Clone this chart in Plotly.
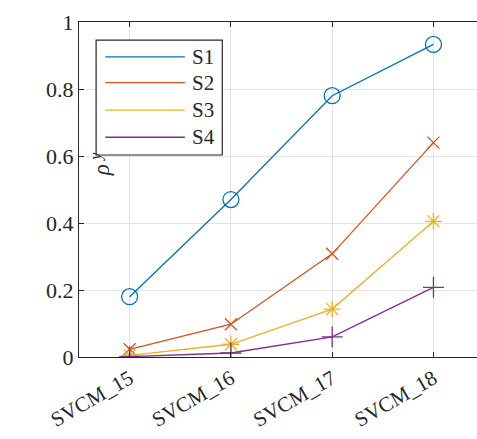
import plotly.graph_objects as go

categories = ["SVCM_15", "SVCM_16", "SVCM_17", "SVCM_18"]
s1 = [0.180, 0.470, 0.780, 0.933]
s2 = [0.023, 0.098, 0.308, 0.640]
s3 = [0.005, 0.038, 0.143, 0.405]
s4 = [0.001, 0.012, 0.060, 0.208]
series_names = ["S1", "S2", "S3", "S4"]
y_ticks = [0, 0.2, 0.4, 0.6, 0.8, 1]

colors = ["#0072BD", "#D95319", "#EDB120", "#7E2F8E"]
symbols = ["circle-open", "x-thin-open", "asterisk-open", "cross-thin-open"]
sizes = [16, 12, 14, 15]

FONT = "Liberation Serif"
INK = "#262626"
xs = list(range(len(categories)))


def serif(size, style="normal"):
    return dict(family=FONT, size=size, color=INK, style=style)


fig = go.Figure()
for name, vals, c, sym, sz in zip(series_names, [s1, s2, s3, s4], colors, symbols, sizes):
    fig.add_trace(go.Scatter(
        x=xs, y=vals, name=name, mode="lines+markers", showlegend=False,
        line=dict(color=c, width=1.3),
        marker=dict(symbol=sym, size=sz, color=c, line=dict(color=c, width=1.3)),
    ))

# Boxed legend inside the axes (axes-fraction coordinates)
box_x0, box_x1, box_y0, box_y1 = 0.043, 0.36, 0.603, 0.946
line_x0, line_x1, mark_x, text_x = 0.066, 0.266, 0.166, 0.279
row_y = [0.896, 0.819, 0.737, 0.656]

fig.add_shape(type="rect", xref="x domain", yref="y domain",
              x0=box_x0, x1=box_x1, y0=box_y0, y1=box_y1,
              line=dict(color=INK, width=1.2), fillcolor="white", layer="above")
for name, c, sym, sz, ry in zip(series_names, colors, symbols, sizes, row_y):
    fig.add_shape(type="line", xref="x domain", yref="y domain",
                  x0=line_x0, x1=line_x1, y0=ry, y1=ry,
                  line=dict(color=c, width=1.3), layer="above")
    fig.add_trace(go.Scatter(
        x=[mark_x], y=[ry], xaxis="x2", yaxis="y2", mode="markers", showlegend=False,
        hoverinfo="skip",
        marker=dict(symbol=sym, size=sz, color=c, line=dict(color=c, width=1.3)),
    ))
    fig.add_annotation(xref="x domain", yref="y domain", x=text_x, y=ry,
                       text=name, showarrow=False, xanchor="left", yanchor="middle",
                       font=serif(21))

# Rotated y-axis label: italic rho with a lowered italic y
fig.add_annotation(xref="paper", yref="paper", x=27 / 477, y=1 - 195 / 439,
                   text="ρ", textangle=-90, showarrow=False,
                   xanchor="center", yanchor="middle", font=serif(23, "italic"))
fig.add_annotation(xref="paper", yref="paper", x=20 / 477, y=1 - 177 / 439,
                   text="y", textangle=-90, showarrow=False,
                   xanchor="center", yanchor="middle", font=serif(16, "italic"))

fig.update_layout(
    width=477, height=439,
    margin=dict(l=79, r=0, t=22, b=82),
    paper_bgcolor="white", plot_bgcolor="white",
    font=serif(21),
    showlegend=False,
    xaxis=dict(
        range=[-0.5, 3.43], tickmode="array", tickvals=xs, ticktext=categories,
        tickangle=-30, showgrid=True, gridcolor="#e3e3e3", gridwidth=1,
        showline=True, linecolor=INK, linewidth=1.3, mirror="ticks",
        ticks="inside", ticklen=5, tickcolor=INK, zeroline=False,
        tickfont=serif(21),
    ),
    yaxis=dict(
        range=[0, 1], tickmode="array", tickvals=y_ticks,
        ticktext=["0", "0.2", "0.4", "0.6", "0.8", "1"],
        showgrid=True, gridcolor="#e3e3e3", gridwidth=1,
        showline=True, linecolor=INK, linewidth=1.3, mirror=False,
        ticks="inside", ticklen=5, tickcolor=INK, zeroline=False,
        tickfont=serif(22),
    ),
    xaxis2=dict(overlaying="x", range=[0, 1], visible=False, fixedrange=True),
    yaxis2=dict(overlaying="y", range=[0, 1], visible=False, fixedrange=True),
)

fig.write_html("out.html")
